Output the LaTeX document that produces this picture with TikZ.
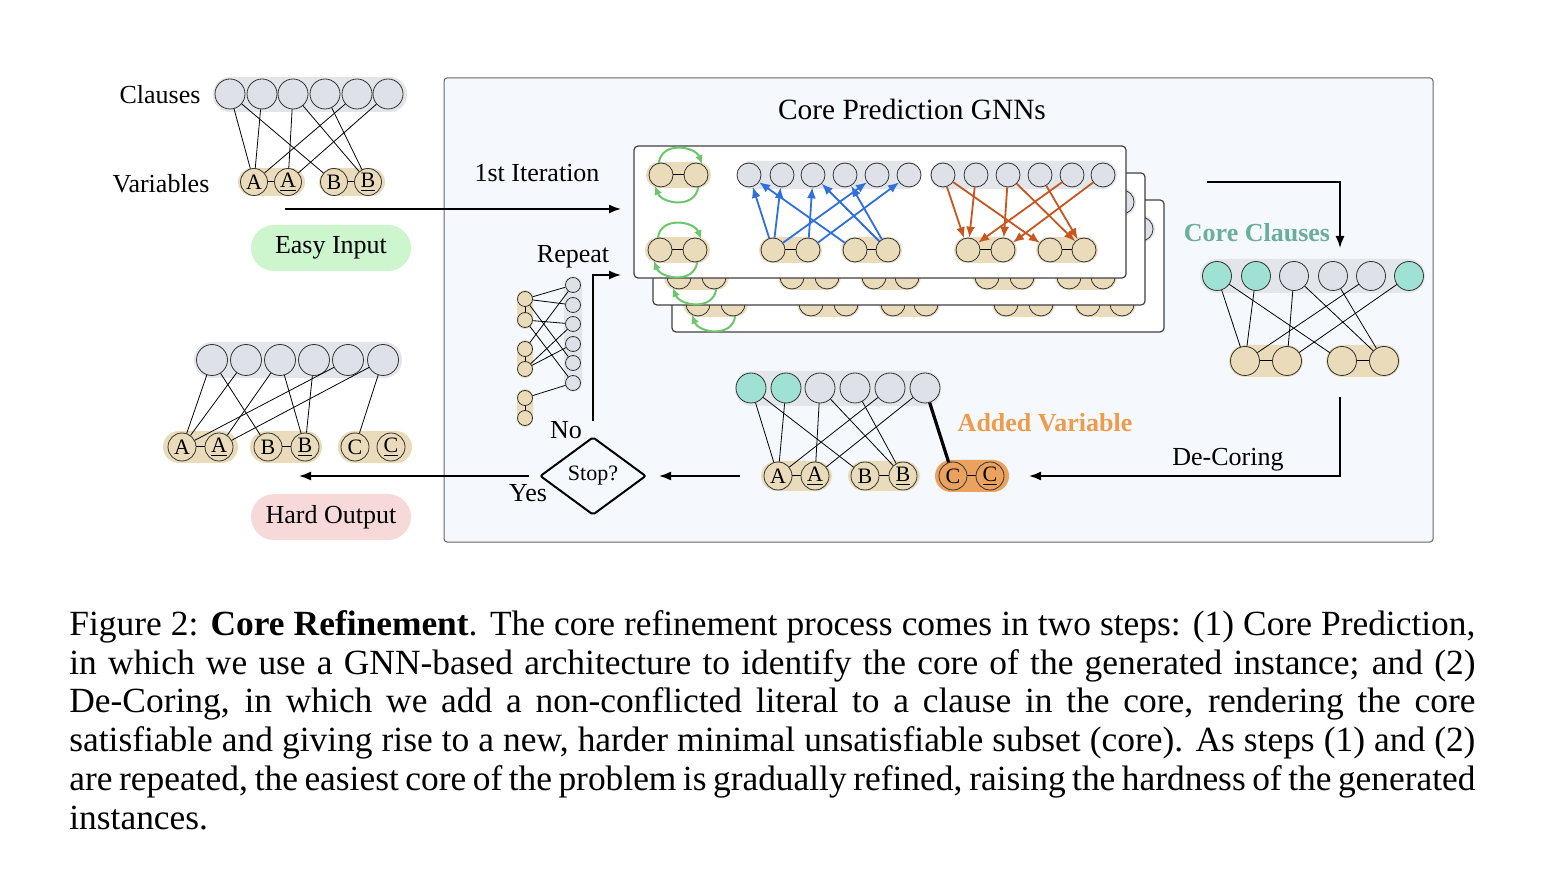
\documentclass[tikz,border=0pt]{standalone}
\usepackage{fontspec}
\setmainfont{Liberation Serif}
\usetikzlibrary{shapes.geometric,arrows.meta,calc}
\definecolor{panelbg}{HTML}{F5F8FD}
\definecolor{clgray}{HTML}{DEE1E7}
\definecolor{clbg}{HTML}{E2E5EA}
\definecolor{tanc}{HTML}{EADCBB}
\definecolor{mint}{HTML}{9FE2D3}
\definecolor{easyg}{HTML}{CDF5CE}
\definecolor{hardr}{HTML}{F8D9DA}
\definecolor{blueA}{HTML}{2F6FDE}
\definecolor{orangeA}{HTML}{C7561F}
\definecolor{greenA}{HTML}{6CC66A}
\definecolor{addedO}{HTML}{EE9B4C}
\definecolor{orangeF}{HTML}{EBA25E}
\definecolor{coreT}{HTML}{6BAE9D}
\tikzset{
 cl/.style={circle,draw=black!80,fill=clgray,minimum size=15pt,inner sep=0pt,line width=0.4pt},
 vr/.style={circle,draw=black!80,fill=tanc,minimum size=13.5pt,inner sep=0pt,line width=0.4pt,font=\fontsize{11}{11}\selectfont},
 gc/.style={cl,minimum size=12pt},
 gv/.style={vr,minimum size=12pt},
 sc/.style={cl,minimum size=7.5pt},
 sv/.style={vr,minimum size=7.5pt},
 edge/.style={draw=black,line width=0.4pt},
 link/.style={draw=black,line width=0.5pt},
 barr/.style={draw=blueA,line width=0.9pt,-{Latex[length=5.5pt,width=4.5pt]}},
 oarr/.style={draw=orangeA,line width=0.9pt,-{Latex[length=5.5pt,width=4.5pt]}},
 garr/.style={draw=greenA,line width=1pt,-{Latex[length=4.5pt,width=4pt]}},
 flow/.style={draw=black,line width=0.8pt,-{Latex[length=6pt,width=4.5pt]}},
 lbl/.style={font=\fontsize{13}{15}\selectfont,inner sep=0pt},
 layerbox/.style={draw=black!75,fill=white,line width=0.6pt,rounded corners=2pt},
 pillbox/.style={rounded corners=11.5pt,minimum width=80pt,minimum height=23pt,inner sep=0pt,font=\fontsize{13}{15}\selectfont}
}
\newcommand\gnnlayer[3]{%
\begin{scope}[shift={(#2,#3)}]
\draw[layerbox] (634,146) rectangle (1126,278);
\fill[tanc,rounded corners=6.5pt] (646,162) rectangle (711,188);
\fill[tanc,rounded corners=6.5pt] (645,237) rectangle (710,263);
\fill[clbg,rounded corners=7pt] (737,161) rectangle (921,189);
\fill[clbg,rounded corners=7pt] (930,161) rectangle (1117,189);
\fill[tanc,rounded corners=6.5pt] (759,237) rectangle (822,263);
\fill[tanc,rounded corners=6.5pt] (841,237) rectangle (902,263);
\fill[tanc,rounded corners=6.5pt] (954,237) rectangle (1017,263);
\fill[tanc,rounded corners=6.5pt] (1036,237) rectangle (1098,263);
\node[gv] (#1pa) at (661,175) {};
\node[gv] (#1pb) at (696,175) {};
\node[gv] (#1qa) at (660,250) {};
\node[gv] (#1qb) at (695,250) {};
\draw[link] (#1pa)--(#1pb) (#1qa)--(#1qb);
\draw[garr] (#1pa.100) .. controls +(3,-22) and +(-7,-18) .. (#1pb.60);
\draw[garr] (#1pb.-80) .. controls +(-3,22) and +(7,18) .. (#1pa.-120);
\draw[garr] (#1qa.100) .. controls +(3,-22) and +(-7,-18) .. (#1qb.60);
\draw[garr] (#1qb.-80) .. controls +(-3,22) and +(7,18) .. (#1qa.-120);
\foreach \i/\xx in {1/749,2/782,3/813,4/845,5/877,6/909} {\node[gc] (#1b\i) at (\xx,175) {};}
\foreach \i/\xx in {1/773,2/808,3/855,4/888} {\node[gv] (#1bv\i) at (\xx,250) {};}
\draw[link] (#1bv1)--(#1bv2) (#1bv3)--(#1bv4);
\foreach \v/\c in {1/1,1/2,1/5,2/3,2/6,3/1,4/3,4/4} {\draw[barr] (#1bv\v) -- (#1b\c);}
\foreach \i/\xx in {1/943,2/976,3/1008,4/1040,5/1072,6/1103} {\node[gc] (#1o\i) at (\xx,175) {};}
\foreach \i/\xx in {1/968,2/1003,3/1050,4/1084} {\node[gv] (#1ov\i) at (\xx,250) {};}
\draw[link] (#1ov1)--(#1ov2) (#1ov3)--(#1ov4);
\foreach \c/\v in {1/1,1/3,2/1,3/2,3/4,4/4,5/1,6/2} {\draw[oarr] (#1o\c) -- (#1ov\v);}
\end{scope}}
\begin{document}
\begin{tikzpicture}[x=0.5pt,y=-0.5pt]
\useasboundingbox (0,0) rectangle (1562,876);
% main panel
\draw[draw=black!60,fill=panelbg,line width=0.5pt,rounded corners=1.5pt] (444,78) rectangle (1433,542);
\node[inner sep=0pt,font=\fontsize{14.7}{16}\selectfont] (title) at (912,109) {Core Prediction GNNs};
% GNN layers
\gnnlayer{k}{38}{54}
\gnnlayer{m}{19}{27}
\gnnlayer{f}{0}{0}
% ---------- top-left easy input graph
\fill[clbg,rounded corners=8.5pt] (213,77) rectangle (407,112);
\fill[tanc,rounded corners=7pt] (238,168) rectangle (305,196);
\fill[tanc,rounded corners=7pt] (319,168) rectangle (385,196);
\foreach \i/\xx in {1/230,2/262,3/293,4/325,5/357,6/388} {\node[cl] (tc\i) at (\xx,94) {};}
\node[vr] (tv1) at (254,182) {A};
\node[vr] (tv2) at (288,182) {\underline{A}};
\node[vr] (tv3) at (334,182) {B};
\node[vr] (tv4) at (368,182) {\underline{B}};
\draw[link] (tv1)--(tv2) (tv3)--(tv4);
\foreach \c/\v in {1/1,1/3,2/1,3/2,3/4,4/4,5/1,6/2} {\draw[edge] (tc\c) -- (tv\v);}
\node[lbl] (lclauses) at (160,95) {Clauses};
\node[lbl] (lvars) at (161,184) {Variables};
\node[pillbox,fill=easyg] (easy) at (331,248) {Easy Input};
\coordinate (eiS) at (285,209);
\coordinate (eiE) at (621,209);
\draw[flow] (eiS) -- (eiE);
\node[lbl] (liter) at (537,173) {1st Iteration};
% ---------- repeat small graph
\fill[clbg,rounded corners=4.5pt] (564,276) rectangle (582,392);
\fill[tanc,rounded corners=4pt] (517,290) rectangle (533,329);
\fill[tanc,rounded corners=4pt] (517,340) rectangle (533,378);
\fill[tanc,rounded corners=4pt] (517,389) rectangle (533,427);
\foreach \i/\yy in {1/285,2/305,3/324,4/344,5/363,6/383} {\node[sc] (rc\i) at (573,\yy) {};}
\foreach \i/\yy in {1/299,2/320,3/349,4/369,5/398,6/418} {\node[sv] (rv\i) at (525,\yy) {};}
\draw[link] (rv1)--(rv2) (rv3)--(rv4) (rv5)--(rv6);
\foreach \v/\c in {1/1,1/2,1/5,2/3,2/6,3/1,4/3,4/4,5/6} {\draw[edge] (rv\v) -- (rc\c);}
\node[lbl] (lrepeat) at (573,257) {Repeat};
\coordinate (noS) at (593,421);
\coordinate (noE) at (621,275);
\draw[flow] (noS) |- (noE);
\node[lbl] (lno) at (566,430) {No};
% ---------- stop
\node[diamond,draw=black,line width=1pt,minimum width=53pt,minimum height=39pt,inner sep=0pt,rounded corners=1pt,font=\fontsize{11}{12}\selectfont] (stop) at (593,476) {Stop?};
\coordinate (yesS) at (529,476);
\coordinate (yesE) at (299,476);
\draw[flow] (yesS) -- (yesE);
\node[lbl] (lyes) at (528,493) {Yes};
\coordinate (bmS) at (740,476);
\coordinate (bmE) at (659,476);
\draw[flow] (bmS) -- (bmE);
% ---------- hard output graph
\fill[clbg,rounded corners=9pt] (194,342) rectangle (402,378);
\fill[tanc,rounded corners=8pt] (163,431) rectangle (238,463);
\fill[tanc,rounded corners=8pt] (250,431) rectangle (322,463);
\fill[tanc,rounded corners=8pt] (338,431) rectangle (412,463);
\foreach \i/\xx in {1/212,2/246,3/280,4/314,5/348,6/383} {\node[cl,minimum size=15.5pt] (hc\i) at (\xx,360) {};}
\node[vr,minimum size=14pt] (hv1) at (182,447) {A};
\node[vr,minimum size=14pt] (hv2) at (219,447) {\underline{A}};
\node[vr,minimum size=14pt] (hv3) at (268,447) {B};
\node[vr,minimum size=14pt] (hv4) at (305,447) {\underline{B}};
\node[vr,minimum size=14pt] (hv5) at (355,447) {C};
\node[vr,minimum size=14pt] (hv6) at (391,447) {\underline{C}};
\draw[link] (hv1)--(hv2) (hv3)--(hv4);
\foreach \c/\v in {1/1,1/3,2/1,3/2,3/4,4/4,5/1,6/2,6/5} {\draw[edge] (hc\c) -- (hv\v);}
\node[pillbox,fill=hardr] (hard) at (331,517) {Hard Output};
% ---------- bottom middle graph
\fill[clbg,rounded corners=8.5pt] (735,371) rectangle (941,406);
\fill[tanc,rounded corners=8pt] (761,461) rectangle (832,491);
\fill[tanc,rounded corners=8pt] (848,461) rectangle (920,491);
\fill[orangeF,rounded corners=8pt] (935,460) rectangle (1009,492);
\foreach \i/\xx/\cc in {1/751/mint,2/786/mint,3/820/clgray,4/855/clgray,5/890/clgray,6/925/clgray} {\node[cl,fill=\cc] (bc\i) at (\xx,388) {};}
\node[vr,minimum size=14pt] (bv1) at (778,476) {A};
\node[vr,minimum size=14pt] (bv2) at (815,476) {\underline{A}};
\node[vr,minimum size=14pt] (bv3) at (865,476) {B};
\node[vr,minimum size=14pt] (bv4) at (903,476) {\underline{B}};
\node[vr,minimum size=14pt,fill=orangeF] (bv5) at (953,476) {C};
\node[vr,minimum size=14pt,fill=orangeF] (bv6) at (990,476) {\underline{C}};
\draw[link] (bv1)--(bv2) (bv3)--(bv4) (bv5)--(bv6);
\foreach \c/\v in {1/1,1/3,2/1,3/2,3/4,4/4,5/1,6/2} {\draw[edge] (bc\c) -- (bv\v);}
\draw[draw=black,line width=1.6pt] (bc6) -- (bv5);
\node[lbl,font=\fontsize{13}{15}\bfseries,text=addedO] (ladded) at (1045,423) {Added Variable};
% ---------- core clauses graph
\fill[clbg,rounded corners=8.5pt] (1200,259) rectangle (1425,293);
\fill[tanc,rounded corners=8pt] (1229,345) rectangle (1303,377);
\fill[tanc,rounded corners=8pt] (1326,345) rectangle (1400,377);
\foreach \i/\xx/\cc in {1/1217/mint,2/1256/mint,3/1294/clgray,4/1333/clgray,5/1371/clgray,6/1409/mint} {\node[cl,fill=\cc,minimum size=14.5pt] (cc\i) at (\xx,276) {};}
\foreach \i/\xx in {1/1245,2/1287,3/1342,4/1384} {\node[vr,minimum size=14.5pt] (cv\i) at (\xx,361) {};}
\draw[link] (cv1)--(cv2) (cv3)--(cv4);
\foreach \c/\v in {1/1,1/3,2/1,3/2,3/4,4/4,5/1,6/2} {\draw[edge] (cc\c) -- (cv\v);}
\node[lbl,font=\fontsize{13}{15}\bfseries,text=coreT] (lcore) at (1257,233) {Core Clauses};
\coordinate (ccS) at (1207,182);
\coordinate (ccE) at (1340,248);
\draw[flow] (ccS) -| (ccE);
\coordinate (dcS) at (1340,397);
\coordinate (dcE) at (1029,476);
\draw[flow] (dcS) |- (dcE);
\node[lbl] (ldecore) at (1228,460) {De-Coring};
% ---------- caption
\node[anchor=north west,inner sep=0pt,text width=703pt,align=justify,font=\fontsize{17.7}{19.4}\selectfont] (cap) at (69,610) {\hyphenpenalty=10000 Figure 2: \textbf{Core Refinement}. The core refinement process comes in two steps: (1) Core Prediction,\linebreak in which we use a GNN-based architecture to identify the core of the generated instance; and (2)\linebreak De-Coring, in which we add a non-conflicted literal to a clause in the core, rendering the core\linebreak satisfiable and giving rise to a new, harder minimal unsatisfiable subset (core). As steps (1) and (2)\linebreak are repeated, the easiest core of the problem is gradually refined, raising the hardness of the generated\linebreak instances.};
\end{tikzpicture}
\end{document}
